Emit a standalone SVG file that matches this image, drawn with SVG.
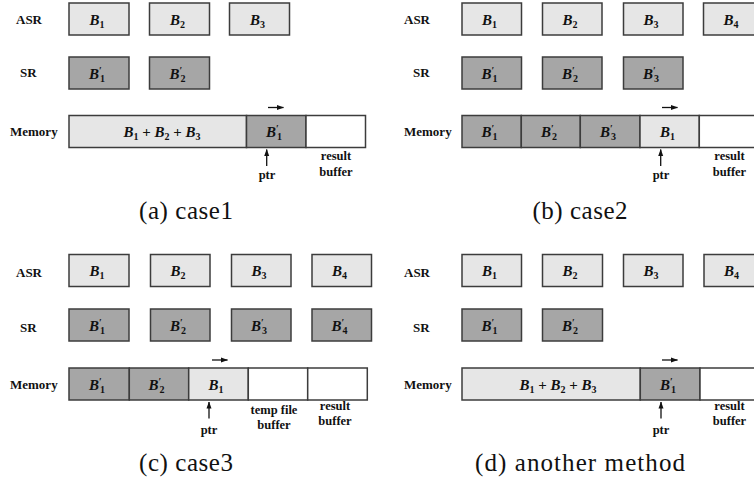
<svg xmlns="http://www.w3.org/2000/svg" width="754" height="485" viewBox="0 0 754 485">
<defs>
<marker id="ah" markerUnits="userSpaceOnUse" markerWidth="7" markerHeight="6" refX="6.5" refY="3" orient="auto">
<path d="M0,0.5 L7,3 L0,5.5 z" fill="#111"/>
</marker>
<style>
.lt{fill:#e6e6e6;stroke:#3c3c3c;stroke-width:1.5}
.dk{fill:#a6a6a6;stroke:#3c3c3c;stroke-width:1.5}
.wt{fill:#ffffff;stroke:#3c3c3c;stroke-width:1.5}
.lbl{font-family:"Liberation Serif",serif;font-weight:bold;font-size:13px;fill:#111}
.nt{font-family:"Liberation Serif",serif;font-weight:bold;font-size:12.5px;fill:#111;text-anchor:middle}
.m{font-family:"Liberation Serif",serif;font-weight:bold;font-style:italic;font-size:15px;fill:#111;text-anchor:middle}
.s{font-style:normal;font-size:10px}
.p{font-style:normal;font-size:10px}
.op{font-style:normal}
.cap{font-family:"Liberation Serif",serif;font-size:25px;fill:#111;text-anchor:middle}
.ar{stroke:#111;stroke-width:1.3;fill:none}
</style>
</defs>
<rect width="754" height="485" fill="#ffffff"/>

<!-- Panel (a) -->
<g id="a-labels">
<text class="lbl" x="16" y="24">ASR</text>
<text class="lbl" x="20" y="77">SR</text>
<text class="lbl" x="10" y="135.5">Memory</text>
</g>
<g id="a-asr1"><rect class="lt" x="69" y="3" width="60" height="32"/><text class="m" x="97" y="24.5">B<tspan class="s" dy="3">1</tspan></text></g>
<g id="a-asr2"><rect class="lt" x="149.5" y="3" width="60" height="32"/><text class="m" x="177.5" y="24.5">B<tspan class="s" dy="3">2</tspan></text></g>
<g id="a-asr3"><rect class="lt" x="229.5" y="3" width="60" height="32"/><text class="m" x="257.5" y="24.5">B<tspan class="s" dy="3">3</tspan></text></g>
<g id="a-sr1"><rect class="dk" x="69" y="57" width="60" height="32"/><text class="m" x="97" y="78.5">B<tspan class="p" dy="-5">′</tspan><tspan class="s" dx="-2" dy="8">1</tspan></text></g>
<g id="a-sr2"><rect class="dk" x="149.5" y="57" width="60" height="32"/><text class="m" x="177.5" y="78.5">B<tspan class="p" dy="-5">′</tspan><tspan class="s" dx="-2" dy="8">2</tspan></text></g>
<g id="a-mem">
<rect class="lt" x="69" y="115.5" width="177.5" height="32"/>
<text class="m" x="162" y="137">B<tspan class="s" dy="3">1</tspan><tspan class="op" dy="-3"> + </tspan>B<tspan class="s" dy="3">2</tspan><tspan class="op" dy="-3"> + </tspan>B<tspan class="s" dy="3">3</tspan></text>
<rect class="dk" x="246.5" y="115.5" width="59.5" height="32"/>
<text class="m" x="274" y="137">B<tspan class="p" dy="-5">′</tspan><tspan class="s" dx="-2" dy="8">1</tspan></text>
<rect class="wt" x="306" y="115.5" width="59.5" height="32"/>
</g>
<g id="a-notes">
<text class="nt" x="267" y="178.5">ptr</text>
<text class="nt" x="336" y="160">result</text>
<text class="nt" x="336" y="175.5">buffer</text>
<text class="cap" x="186" y="219" textLength="94" lengthAdjust="spacing">(a) case1</text>
</g>

<!-- Panel (b) -->
<g id="b-labels">
<text class="lbl" x="404" y="24">ASR</text>
<text class="lbl" x="413" y="77">SR</text>
<text class="lbl" x="404" y="135.5">Memory</text>
</g>
<g id="b-asr1"><rect class="lt" x="462" y="3" width="59.5" height="32"/><text class="m" x="489.5" y="24.5">B<tspan class="s" dy="3">1</tspan></text></g>
<g id="b-asr2"><rect class="lt" x="542.5" y="3" width="59.5" height="32"/><text class="m" x="570" y="24.5">B<tspan class="s" dy="3">2</tspan></text></g>
<g id="b-asr3"><rect class="lt" x="623.5" y="3" width="59.5" height="32"/><text class="m" x="651" y="24.5">B<tspan class="s" dy="3">3</tspan></text></g>
<g id="b-asr4"><rect class="lt" x="703.5" y="3" width="59.5" height="32"/><text class="m" x="731" y="24.5">B<tspan class="s" dy="3">4</tspan></text></g>
<g id="b-sr1"><rect class="dk" x="462" y="57" width="59.5" height="32"/><text class="m" x="489.5" y="78.5">B<tspan class="p" dy="-5">′</tspan><tspan class="s" dx="-2" dy="8">1</tspan></text></g>
<g id="b-sr2"><rect class="dk" x="542.5" y="57" width="59.5" height="32"/><text class="m" x="570" y="78.5">B<tspan class="p" dy="-5">′</tspan><tspan class="s" dx="-2" dy="8">2</tspan></text></g>
<g id="b-sr3"><rect class="dk" x="623.5" y="57" width="59.5" height="32"/><text class="m" x="651" y="78.5">B<tspan class="p" dy="-5">′</tspan><tspan class="s" dx="-2" dy="8">3</tspan></text></g>
<g id="b-mem">
<rect class="dk" x="462" y="115.5" width="59.3" height="32"/>
<text class="m" x="489.5" y="137">B<tspan class="p" dy="-5">′</tspan><tspan class="s" dx="-2" dy="8">1</tspan></text>
<rect class="dk" x="521.3" y="115.5" width="59" height="32"/>
<text class="m" x="549" y="137">B<tspan class="p" dy="-5">′</tspan><tspan class="s" dx="-2" dy="8">2</tspan></text>
<rect class="dk" x="580.3" y="115.5" width="59.7" height="32"/>
<text class="m" x="608" y="137">B<tspan class="p" dy="-5">′</tspan><tspan class="s" dx="-2" dy="8">3</tspan></text>
<rect class="lt" x="640" y="115.5" width="59.3" height="32"/>
<text class="m" x="667.5" y="137">B<tspan class="s" dy="3">1</tspan></text>
<rect class="wt" x="699.3" y="115.5" width="60" height="32"/>
</g>
<g id="b-notes">
<text class="nt" x="661" y="178.5">ptr</text>
<text class="nt" x="729.5" y="160">result</text>
<text class="nt" x="729.5" y="175.5">buffer</text>
<text class="cap" x="580" y="219" textLength="95" lengthAdjust="spacing">(b) case2</text>
</g>

<!-- Panel (c) -->
<g id="c-labels">
<text class="lbl" x="16" y="276.5">ASR</text>
<text class="lbl" x="20" y="331.5">SR</text>
<text class="lbl" x="10" y="389">Memory</text>
</g>
<g id="c-asr1"><rect class="lt" x="69" y="254.5" width="60" height="32"/><text class="m" x="97" y="276">B<tspan class="s" dy="3">1</tspan></text></g>
<g id="c-asr2"><rect class="lt" x="150.5" y="254.5" width="59.5" height="32"/><text class="m" x="178" y="276">B<tspan class="s" dy="3">2</tspan></text></g>
<g id="c-asr3"><rect class="lt" x="231.5" y="254.5" width="59.5" height="32"/><text class="m" x="259" y="276">B<tspan class="s" dy="3">3</tspan></text></g>
<g id="c-asr4"><rect class="lt" x="312" y="254.5" width="59.5" height="32"/><text class="m" x="339.5" y="276">B<tspan class="s" dy="3">4</tspan></text></g>
<g id="c-sr1"><rect class="dk" x="69" y="309" width="60" height="32"/><text class="m" x="97" y="330.5">B<tspan class="p" dy="-5">′</tspan><tspan class="s" dx="-2" dy="8">1</tspan></text></g>
<g id="c-sr2"><rect class="dk" x="150.5" y="309" width="59.5" height="32"/><text class="m" x="178" y="330.5">B<tspan class="p" dy="-5">′</tspan><tspan class="s" dx="-2" dy="8">2</tspan></text></g>
<g id="c-sr3"><rect class="dk" x="231.5" y="309" width="59.5" height="32"/><text class="m" x="259" y="330.5">B<tspan class="p" dy="-5">′</tspan><tspan class="s" dx="-2" dy="8">3</tspan></text></g>
<g id="c-sr4"><rect class="dk" x="312" y="309" width="59.5" height="32"/><text class="m" x="339.5" y="330.5">B<tspan class="p" dy="-5">′</tspan><tspan class="s" dx="-2" dy="8">4</tspan></text></g>
<g id="c-mem">
<rect class="dk" x="69" y="368" width="60.3" height="32"/>
<text class="m" x="97" y="389.5">B<tspan class="p" dy="-5">′</tspan><tspan class="s" dx="-2" dy="8">1</tspan></text>
<rect class="dk" x="129.3" y="368" width="59.4" height="32"/>
<text class="m" x="156.5" y="389.5">B<tspan class="p" dy="-5">′</tspan><tspan class="s" dx="-2" dy="8">2</tspan></text>
<rect class="lt" x="188.7" y="368" width="59.6" height="32"/>
<text class="m" x="216" y="389.5">B<tspan class="s" dy="3">1</tspan></text>
<rect class="wt" x="248.3" y="368" width="59.4" height="32"/>
<rect class="wt" x="307.7" y="368" width="59.6" height="32"/>
</g>
<g id="c-notes">
<text class="nt" x="209" y="433.5">ptr</text>
<text class="nt" x="274" y="414">temp file</text>
<text class="nt" x="274" y="428.5">buffer</text>
<text class="nt" x="335" y="409.5">result</text>
<text class="nt" x="335" y="425">buffer</text>
<text class="cap" x="186" y="471" textLength="94" lengthAdjust="spacing">(c) case3</text>
</g>

<!-- Panel (d) -->
<g id="d-labels">
<text class="lbl" x="404" y="276.5">ASR</text>
<text class="lbl" x="413" y="331.5">SR</text>
<text class="lbl" x="404" y="389">Memory</text>
</g>
<g id="d-asr1"><rect class="lt" x="462" y="254.5" width="59.5" height="32"/><text class="m" x="489.5" y="276">B<tspan class="s" dy="3">1</tspan></text></g>
<g id="d-asr2"><rect class="lt" x="542.5" y="254.5" width="60" height="32"/><text class="m" x="570" y="276">B<tspan class="s" dy="3">2</tspan></text></g>
<g id="d-asr3"><rect class="lt" x="623.5" y="254.5" width="59.5" height="32"/><text class="m" x="651" y="276">B<tspan class="s" dy="3">3</tspan></text></g>
<g id="d-asr4"><rect class="lt" x="704" y="254.5" width="59.5" height="32"/><text class="m" x="731.5" y="276">B<tspan class="s" dy="3">4</tspan></text></g>
<g id="d-sr1"><rect class="dk" x="462" y="309" width="59.5" height="32"/><text class="m" x="489.5" y="330.5">B<tspan class="p" dy="-5">′</tspan><tspan class="s" dx="-2" dy="8">1</tspan></text></g>
<g id="d-sr2"><rect class="dk" x="542.5" y="309" width="60" height="32"/><text class="m" x="570" y="330.5">B<tspan class="p" dy="-5">′</tspan><tspan class="s" dx="-2" dy="8">2</tspan></text></g>
<g id="d-mem">
<rect class="lt" x="462" y="368" width="178.3" height="32"/>
<text class="m" x="558" y="389.5">B<tspan class="s" dy="3">1</tspan><tspan class="op" dy="-3"> + </tspan>B<tspan class="s" dy="3">2</tspan><tspan class="op" dy="-3"> + </tspan>B<tspan class="s" dy="3">3</tspan></text>
<rect class="dk" x="640.3" y="368" width="59.7" height="32"/>
<text class="m" x="668" y="389.5">B<tspan class="p" dy="-5">′</tspan><tspan class="s" dx="-2" dy="8">1</tspan></text>
<rect class="wt" x="700" y="368" width="60" height="32"/>
</g>
<g id="d-notes">
<text class="nt" x="661" y="433.5">ptr</text>
<text class="nt" x="729.5" y="409.5">result</text>
<text class="nt" x="729.5" y="425">buffer</text>
<text class="cap" x="580" y="471" textLength="210" lengthAdjust="spacing">(d) another method</text>
</g>

<g id="connectors">
<line class="ar" x1="268" y1="107.5" x2="283.5" y2="107.5" marker-end="url(#ah)"/>
<line class="ar" x1="266.7" y1="166" x2="266.7" y2="149.5" marker-end="url(#ah)"/>
<line class="ar" x1="662" y1="107.5" x2="677.5" y2="107.5" marker-end="url(#ah)"/>
<line class="ar" x1="660.7" y1="166" x2="660.7" y2="149.5" marker-end="url(#ah)"/>
<line class="ar" x1="212" y1="360" x2="227.5" y2="360" marker-end="url(#ah)"/>
<line class="ar" x1="209" y1="418.5" x2="209" y2="402" marker-end="url(#ah)"/>
<line class="ar" x1="662" y1="360" x2="677.5" y2="360" marker-end="url(#ah)"/>
<line class="ar" x1="661" y1="418.5" x2="661" y2="402" marker-end="url(#ah)"/>
</g>
</svg>
